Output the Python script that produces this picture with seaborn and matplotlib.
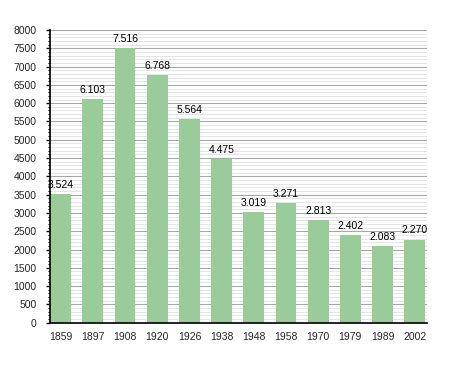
import matplotlib
matplotlib.use("Agg")
import matplotlib.pyplot as plt
from matplotlib.ticker import MultipleLocator
import seaborn as sns
import pandas as pd

years = ["1859", "1897", "1908", "1920", "1926", "1938", "1948", "1958", "1970", "1979", "1989", "2002"]
population = [3524, 6103, 7516, 6768, 5564, 4475, 3019, 3271, 2813, 2402, 2083, 2270]
value_labels = ["3.524", "6.103", "7.516", "6.768", "5.564", "4.475", "3.019", "3.271", "2.813", "2.402", "2.083", "2.270"]

df = pd.DataFrame({"year": years, "pop": population})

sns.set_theme(style="white")
plt.rcParams["font.family"] = ["Liberation Sans", "DejaVu Sans"]

fig = plt.figure(figsize=(4.55, 3.73), dpi=100)
ax = fig.add_axes([50/455, (373-322.7)/373, 377/455, (322.7-30)/373])

sns.barplot(data=df, x="year", y="pop", color="#99CC99", saturation=1,
            width=0.65, ax=ax, zorder=3, linewidth=0, edgecolor="none")

ax.set_ylim(0, 8000)
ax.set_xlim(-0.33, 11.38)
ax.yaxis.set_major_locator(MultipleLocator(500))
ax.yaxis.set_minor_locator(MultipleLocator(100))
ax.grid(which="major", axis="y", color="#A8A8A8", linewidth=0.8, zorder=0)
ax.grid(which="minor", axis="y", color="#E0E0E0", linewidth=0.6, zorder=0)
ax.set_axisbelow(True)

for s in ["top", "right"]:
    ax.spines[s].set_visible(False)
for s in ["left", "bottom"]:
    ax.spines[s].set_color("black")
    ax.spines[s].set_linewidth(1.2)
    ax.spines[s].set_zorder(5)

ax.tick_params(axis="y", which="major", left=True, length=3, width=1, color="black",
               labelsize=7.5, pad=6.5)
ax.tick_params(axis="y", which="minor", left=True, length=1.5, width=0.8, color="black")
ax.tick_params(axis="x", which="both", bottom=False, labelsize=7.5, pad=1)

for i, (v, lab) in enumerate(zip(population, value_labels)):
    ax.annotate(lab, (i, v), xytext=(0, 3), textcoords="offset points",
                ha="center", va="bottom", fontsize=7.5, color="black", zorder=6)

ax.set_xlabel("")
ax.set_ylabel("")
fig.patch.set_facecolor("white")
fig.savefig("out.png", dpi=100)
